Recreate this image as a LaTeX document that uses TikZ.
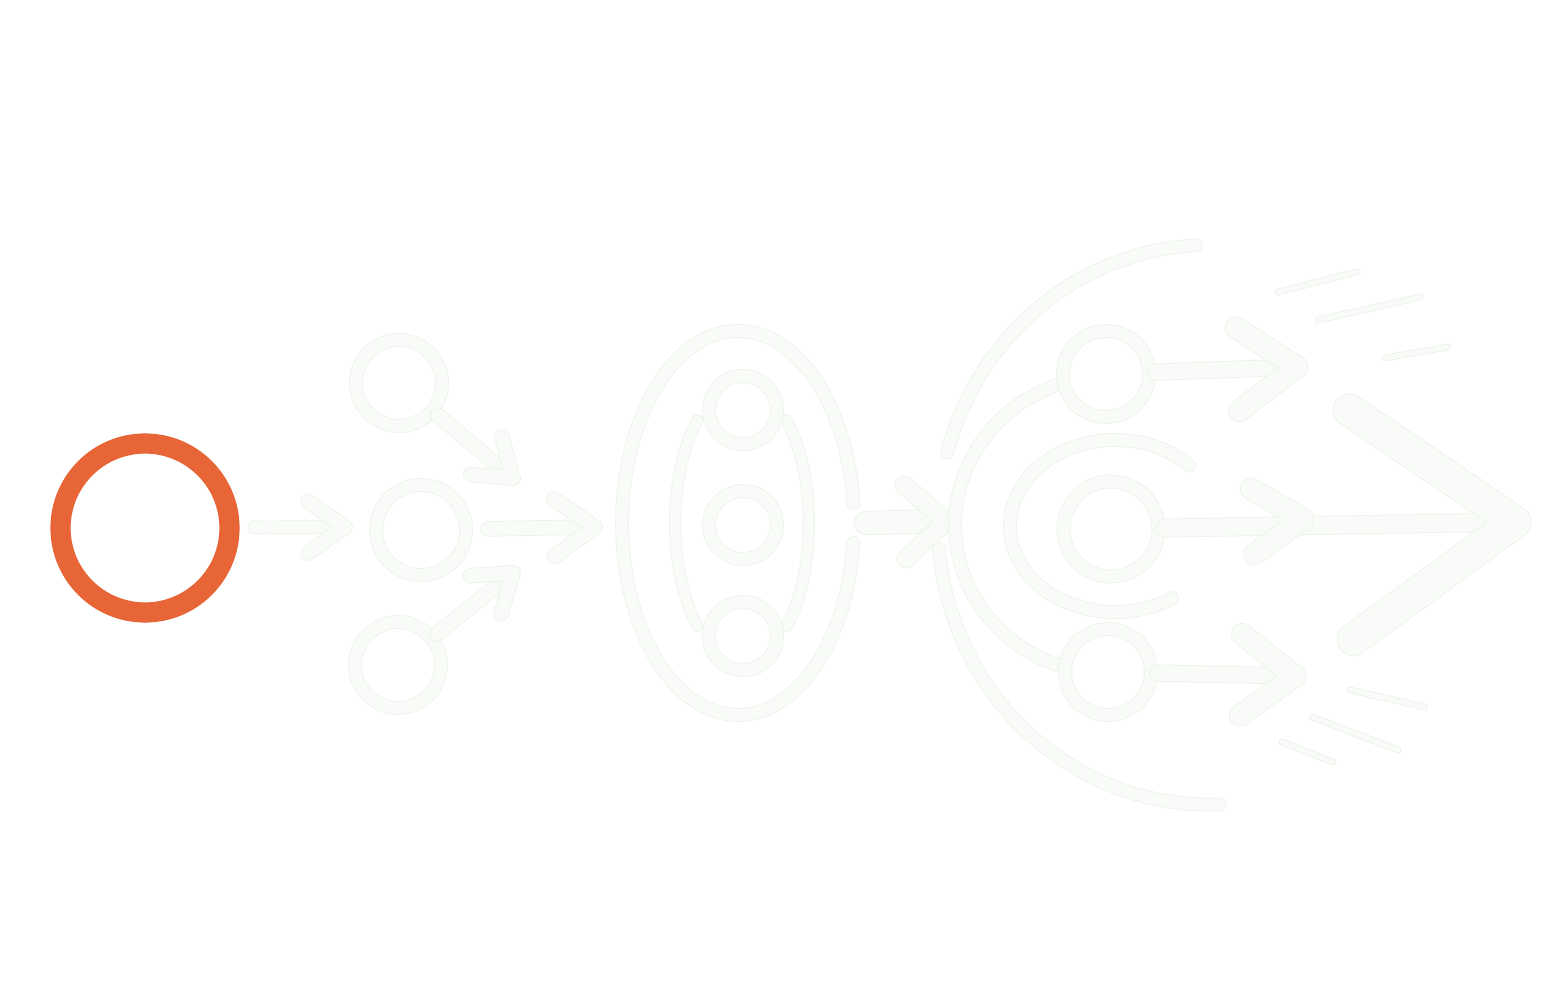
\documentclass[tikz,border=0pt]{standalone}
\usetikzlibrary{calc}
\definecolor{orng}{RGB}{232,101,56}
\definecolor{fedge}{RGB}{234,242,231}
\definecolor{ffill}{RGB}{248,251,247}
\tikzset{
  faint/.style={draw=fedge, line width=0.4pt, double=ffill, double distance=7pt, line cap=round, line join=round},
  ring/.style={circle, faint, inner sep=0pt, outer sep=4pt},
  shaft/.style={faint, double distance=#1},
  chev/.style={faint, double distance=#1},
  speedline/.style={faint, double distance=3pt},
  orangering/.style={circle, draw=orng, line width=11.5pt, inner sep=0pt}
}
\begin{document}
\begin{tikzpicture}[x=0.02cm, y=-0.02cm]
\path[use as bounding box, fill=white] (0,0) rectangle (1568,1003);

% orange start circle
\node[orangering, minimum size=3.38cm] (o) at (145,528) {};

% left group
\node[ring, minimum size=1.72cm] (L1) at (399,383) {};
\node[ring, minimum size=1.80cm] (L2) at (421,530) {};
\node[ring, minimum size=1.72cm] (L3) at (398,665) {};
\coordinate (t1) at (345,527);
\coordinate (tl) at (513,478);
\coordinate (bl) at (513,573);
\coordinate (t2) at (595,527);

\draw[shaft=7pt, shorten <=0.3cm] (o) -- (t1);
\draw[chev=8pt] ($(t1)!0.9cm!35:(o)$) -- (t1) -- ($(t1)!0.9cm!-35:(o)$);
\draw[shaft=8pt] (L1) -- (tl);
\draw[chev=8pt] ($(tl)!0.85cm!35:(L1)$) -- (tl) -- ($(tl)!0.85cm!-35:(L1)$);
\draw[shaft=8pt] (L3) -- (bl);
\draw[chev=8pt] ($(bl)!0.85cm!35:(L3)$) -- (bl) -- ($(bl)!0.85cm!-35:(L3)$);
\draw[shaft=8pt, shorten <=0.3cm] (L2) -- (t2);
\draw[chev=8pt] ($(t2)!1cm!35:(L2)$) -- (t2) -- ($(t2)!1cm!-35:(L2)$);

% middle ellipse group
\draw[faint] (853.4,502.9) arc[start angle=6, end angle=354, x radius=2.32cm, y radius=3.84cm];
\draw[faint, double distance=6pt] (697.2,420.4) arc[start angle=132, end angle=228, x radius=1.34cm, y radius=2.76cm];
\draw[faint, double distance=6pt] (786.8,625.6) arc[start angle=-48, end angle=48, x radius=1.34cm, y radius=2.76cm];
\node[ring, minimum size=1.36cm] (M1) at (743,410) {};
\node[ring, minimum size=1.36cm] (M2) at (743,525) {};
\node[ring, minimum size=1.36cm] (M3) at (743,636) {};
\coordinate (s3) at (866,523);
\coordinate (t3) at (946,521);
\draw[shaft=13pt] (s3) -- (t3);
\draw[chev=10pt] ($(t3)!1.1cm!42:(s3)$) -- (t3) -- ($(t3)!1.1cm!-42:(s3)$);

% right group arcs
\draw[faint] (1195.8,245.4) arc[start angle=93, end angle=165, x radius=5.44cm, y radius=5.6cm];
\draw[faint] (939,549) arc[start angle=185, end angle=272, x radius=5.44cm, y radius=5.6cm];
\draw[faint] (1057,385) arc[start angle=110, end angle=250, x radius=3.1cm, y radius=2.98cm];
\draw[faint] (1189.2,465.2) arc[start angle=45, end angle=303, x radius=2.1cm, y radius=1.72cm];

\node[ring, minimum size=1.72cm] (R1) at (1106,374) {};
\node[ring, minimum size=1.90cm] (R2) at (1111,529) {};
\node[ring, minimum size=1.72cm] (R3) at (1108,672) {};
\coordinate (tr1) at (1297,367);
\coordinate (tr2) at (1303,519);
\coordinate (tr3) at (1295,676);
\coordinate (tb) at (1515,522);

\draw[shaft=9pt] (R1) -- (tr1);
\draw[chev=12pt] ($(tr1)!1.45cm!35:(R1)$) -- (tr1) -- ($(tr1)!1.45cm!-35:(R1)$);
\draw[shaft=9pt] (R3) -- (tr3);
\draw[chev=12pt] ($(tr3)!1.35cm!37:(R3)$) -- (tr3) -- ($(tr3)!1.35cm!-37:(R3)$);
\draw[shaft=10pt] (R2) -- (tb);
\draw[chev=12pt] ($(tr2)!1.2cm!33:(R2)$) -- (tr2) -- ($(tr2)!1.2cm!-33:(R2)$);
\draw[chev=18pt] ($(tb)!4cm!35:(R2)$) -- (tb) -- ($(tb)!4cm!-35:(R2)$);

% speed lines
\coordinate (a1) at (1278,292); \coordinate (a2) at (1357,272);
\coordinate (b1) at (1318,320); \coordinate (b2) at (1420,297);
\coordinate (c1) at (1385,358); \coordinate (c2) at (1448,347);
\coordinate (d1) at (1350,690); \coordinate (d2) at (1425,707);
\coordinate (e1) at (1312,717); \coordinate (e2) at (1398,750);
\coordinate (f1) at (1282,742); \coordinate (f2) at (1333,762);
\draw[speedline] (a1) -- (a2);
\draw[speedline] (b1) -- (b2);
\draw[speedline] (c1) -- (c2);
\draw[speedline] (d1) -- (d2);
\draw[speedline] (e1) -- (e2);
\draw[speedline] (f1) -- (f2);
\end{tikzpicture}
\end{document}
